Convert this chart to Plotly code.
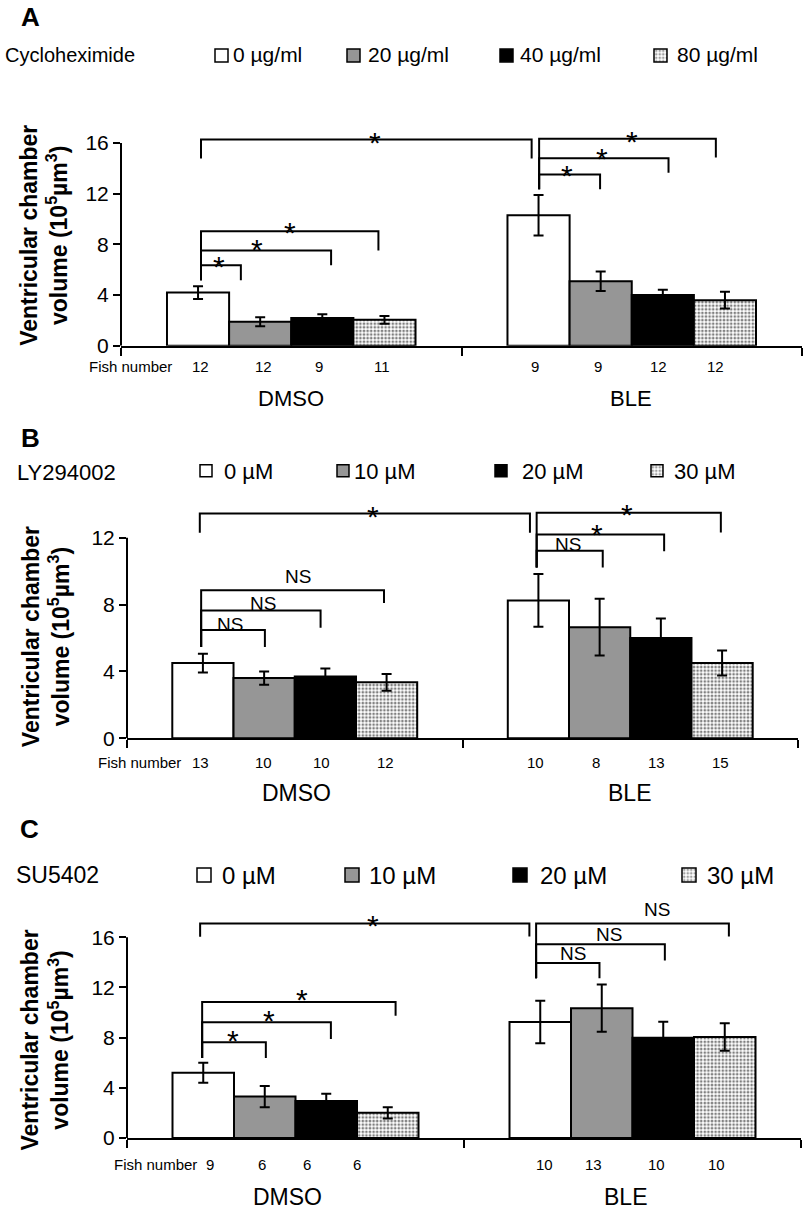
import plotly.graph_objects as go

W, H = 805, 1218
FONT = "Liberation Sans, Arial, Helvetica, sans-serif"

# ---------------- data ----------------
groups = ["DMSO", "BLE"]

A_drug = "Cycloheximide"
A_doses = ["0 µg/ml", "20 µg/ml", "40 µg/ml", "80 µg/ml"]
A_dmso_mean = [4.2, 1.9, 2.2, 2.05]
A_dmso_sem = [0.5, 0.35, 0.3, 0.3]
A_ble_mean = [10.3, 5.1, 4.0, 3.6]
A_ble_sem = [1.6, 0.77, 0.43, 0.66]
A_fish_dmso = [12, 12, 9, 11]
A_fish_ble = [9, 9, 12, 12]

B_drug = "LY294002"
B_doses = ["0 µM", "10 µM", "20 µM", "30 µM"]
B_dmso_mean = [4.5, 3.6, 3.7, 3.35]
B_dmso_sem = [0.56, 0.4, 0.47, 0.5]
B_ble_mean = [8.25, 6.65, 6.0, 4.5]
B_ble_sem = [1.58, 1.7, 1.17, 0.75]
B_fish_dmso = [13, 10, 10, 12]
B_fish_ble = [10, 8, 13, 15]

C_drug = "SU5402"
C_doses = ["0 µM", "10 µM", "20 µM", "30 µM"]
C_dmso_mean = [5.2, 3.3, 2.95, 2.0]
C_dmso_sem = [0.8, 0.85, 0.58, 0.45]
C_ble_mean = [9.25, 10.35, 8.0, 8.05]
C_ble_sem = [1.7, 1.88, 1.27, 1.1]
C_fish_dmso = [9, 6, 6, 6]
C_fish_ble = [10, 13, 10, 10]

# significance brackets: (x_start, x_end, y_line, y_left_bottom, y_right_bottom, label, label_x, label_y)
A_sig = [
    (-0.265, 0.706, 16.27, 14.77, 14.77, "*", 0.246, 16.59),
    (-0.265, 0.256, 9.04, 5.18, 7.52, "*", -0.004, 9.45),
    (-0.265, 0.117, 7.52, 5.18, 6.35, "*", -0.101, 8.13),
    (-0.265, -0.148, 6.35, 5.18, 5.18, "*", -0.212, 6.82),
    (0.728, 1.247, 16.33, 12.34, 14.84, "*", 0.9998, 16.64),
    (0.728, 1.108, 14.79, 12.34, 13.65, "*", 0.912, 15.31),
    (0.728, 0.907, 13.5, 12.34, 12.34, "*", 0.809, 13.98),
]
B_sig = [
    (-0.283, 0.701, 13.45, 12.3, 12.3, "*", 0.233, 13.70),
    (-0.279, 0.266, 8.86, 5.47, 8.1, "NS", 0.009, 9.69),
    (-0.279, 0.077, 7.65, 5.47, 6.62, "NS", -0.094, 8.05),
    (-0.279, -0.089, 6.48, 5.47, 5.47, "NS", -0.193, 6.82),
    (0.721, 1.27, 13.5, 10.22, 12.32, "*", 0.99, 13.82),
    (0.721, 1.101, 12.2, 10.22, 11.2, "*", 0.9, 12.59),
    (0.721, 0.918, 11.23, 10.22, 10.22, "NS", 0.813, 11.61),
]
C_sig = [
    (-0.283, 0.694, 17.1, 16.05, 16.07, "*", 0.23, 17.52),
    (-0.277, 0.297, 10.85, 6.37, 9.75, "*", 0.018, 11.64),
    (-0.277, 0.105, 9.22, 6.37, 7.9, "*", -0.078, 9.93),
    (-0.277, -0.088, 7.64, 6.37, 6.37, "*", -0.185, 8.3),
    (0.714, 1.286, 17.1, 12.73, 16.07, "NS", 1.073, 18.2),
    (0.714, 1.096, 15.46, 12.73, 14.15, "NS", 0.931, 16.23),
    (0.714, 0.902, 13.96, 12.73, 12.73, "NS", 0.824, 14.73),
]

# ---------------- styling / layout geometry (pixels) ----------------
bar_colors = ["white", "#969696", "black", "white"]
bar_patterns = ["", "", "", "."]

panels = [
    dict(letter="A", s="", drug=A_drug, doses=A_doses,
         dm=A_dmso_mean, de=A_dmso_sem, bm=A_ble_mean, be=A_ble_sem,
         fd=A_fish_dmso, fb=A_fish_ble, sig=A_sig,
         x0=121, x1=802, ybot=349, ppu=12.8, ymax=17.5, ytick=[0, 4, 8, 12, 16],
         letter_xy=(30, 17), drug_xy=(3, 55), drug_fs=20,
         box_x=[215, 347, 500, 654], box_sz=13, box_cy=56,
         txt_x=[231, 366, 518, 675], txt_cy=55, leg_fs=21,
         title_xy=(44, 238),
         fish_x=[200, 263, 319, 381.7, 535, 598, 658, 715], fish_y=370, fishlab_x=87,
         grp_xy=[(291, 402), (631, 402)], grp_fs=22),
    dict(letter="B", s="2", drug=B_drug, doses=B_doses,
         dm=B_dmso_mean, de=B_dmso_sem, bm=B_ble_mean, be=B_ble_sem,
         fd=B_fish_dmso, fb=B_fish_ble, sig=B_sig,
         x0=127, x1=798, ybot=745, ppu=16.86, ymax=14.5, ytick=[0, 4, 8, 12],
         letter_xy=(30, 442), drug_xy=(15, 477), drug_fs=22,
         box_x=[200, 337, 495, 651], box_sz=12, box_cy=475,
         txt_x=[222, 352, 520, 672], txt_cy=476, leg_fs=22,
         title_xy=(46, 643),
         fish_x=[200, 263.3, 321, 385, 535, 595.7, 656.7, 720], fish_y=769, fishlab_x=96,
         grp_xy=[(296, 800), (629, 800)], grp_fs=23),
    dict(letter="C", s="3", drug=C_drug, doses=C_doses,
         dm=C_dmso_mean, de=C_dmso_sem, bm=C_ble_mean, be=C_ble_sem,
         fd=C_fish_dmso, fb=C_fish_ble, sig=C_sig,
         x0=127, x1=801, ybot=1148.3, ppu=12.65, ymax=19.3, ytick=[0, 4, 8, 12, 16],
         letter_xy=(29, 837), drug_xy=(14, 883), drug_fs=23,
         box_x=[197, 345, 513, 682], box_sz=14, box_cy=883,
         txt_x=[220, 367, 538, 705], txt_cy=883, leg_fs=24,
         title_xy=(45, 1050),
         fish_x=[210, 262, 307, 357, 544.3, 593.3, 656, 716], fish_y=1175, fishlab_x=112,
         grp_xy=[(287, 1208), (625, 1208)], grp_fs=23),
]

fig = go.Figure()
shapes = []
annotations = []
layout_axes = {}

PIX = dict(xref="x4", yref="y4")


def ptxt(x, y, text, size, xanchor="center", yanchor="middle", bold=False, angle=0):
    t = f"<b>{text}</b>" if bold else text
    annotations.append(dict(x=x, y=y, text=t, showarrow=False, xanchor=xanchor,
                            yanchor=yanchor, textangle=angle,
                            font=dict(family=FONT, size=size, color="black"), **PIX))


legend_x, legend_base, legend_h, legend_col, legend_pat = [], [], [], [], []

for p in panels:
    s = p["s"]
    xa, ya = "x" + s, "y" + s
    top_px = p["ybot"] - p["ppu"] * p["ymax"]
    xdom = [p["x0"] / W, p["x1"] / W]
    ydom = [1 - p["ybot"] / H, 1 - top_px / H]

    for k in range(4):
        marker = dict(color=bar_colors[k], line=dict(color="black", width=2))
        if bar_patterns[k]:
            marker["pattern"] = dict(shape=bar_patterns[k], fgcolor="black",
                                     size=3.6, solidity=0.45)
        fig.add_trace(go.Bar(
            x=[0, 1], y=[p["dm"][k], p["bm"][k]],
            error_y=dict(type="data", array=[p["de"][k], p["be"][k]],
                         color="black", thickness=2, width=5),
            marker=marker, xaxis=xa, yaxis=ya, showlegend=False,
            name=p["doses"][k], hoverinfo="skip"))

    axkey = "" if s == "" else s
    layout_axes["xaxis" + axkey] = dict(
        domain=xdom, anchor=ya, range=[-0.5, 1.5], tickvals=[-0.5, 0.5, 1.5],
        ticks="outside", ticklen=8, tickwidth=2, tickcolor="black",
        showticklabels=False, showline=True, linecolor="black", linewidth=2,
        showgrid=False, zeroline=False, fixedrange=True)
    layout_axes["yaxis" + axkey] = dict(
        domain=ydom, anchor=xa, range=[0, p["ymax"]], tickvals=p["ytick"],
        ticks="outside", ticklen=7, tickwidth=2, tickcolor="black",
        tickfont=dict(family=FONT, size=21, color="black"),
        showline=False, showgrid=False, zeroline=False, fixedrange=True)

    # y-axis line up to the top tick
    shapes.append(dict(type="line", xref="paper", yref=ya,
                       x0=xdom[0], x1=xdom[0], y0=0, y1=p["ytick"][-1],
                       line=dict(color="black", width=2)))

    # significance brackets
    for (xs, xe, yl, ylb, yrb, lab, lx, ly) in p["sig"]:
        shapes.append(dict(type="path", xref=xa, yref=ya,
                           path=f"M {xs},{ylb} L {xs},{yl} L {xe},{yl} L {xe},{yrb}",
                           line=dict(color="black", width=2)))
        if lab == "*":
            annotations.append(dict(x=lx, y=ly, xref=xa, yref=ya, text="*",
                                    showarrow=False, yshift=-7,
                                    font=dict(family=FONT, size=30, color="black")))
        else:
            annotations.append(dict(x=lx, y=ly, xref=xa, yref=ya, text=lab,
                                    showarrow=False,
                                    font=dict(family=FONT, size=19, color="black")))

    # panel letter, drug label, legend
    ptxt(*p["letter_xy"], p["letter"], 26, bold=True)
    ptxt(p["drug_xy"][0], p["drug_xy"][1], p["drug"], p["drug_fs"], xanchor="left")
    for k in range(4):
        sz = p["box_sz"]
        legend_x.append(p["box_x"][k] + sz / 2)
        legend_base.append(p["box_cy"] - sz / 2)
        legend_h.append(sz)
        legend_col.append(bar_colors[k])
        legend_pat.append(bar_patterns[k])
        ptxt(p["txt_x"][k], p["txt_cy"], p["doses"][k], p["leg_fs"], xanchor="left")

    # y title
    ptxt(p["title_xy"][0], p["title_xy"][1],
         "Ventricular chamber<br>volume (10<sup>5</sup>µm<sup>3</sup>)", 23,
         bold=True, angle=-90)

    # fish numbers
    ptxt(p["fishlab_x"], p["fish_y"], "Fish number", 15, xanchor="left")
    for xpx, n in zip(p["fish_x"], list(p["fd"]) + list(p["fb"])):
        ptxt(xpx, p["fish_y"], str(n), 15)

    # group labels
    for (gx, gy), g in zip(p["grp_xy"], groups):
        ptxt(gx, gy, g, p["grp_fs"])

# legend swatches on a pixel overlay axis
fig.add_trace(go.Bar(
    x=legend_x, y=legend_h, base=legend_base, width=legend_h,
    marker=dict(color=legend_col, line=dict(color="black", width=1.5),
                pattern=dict(shape=legend_pat, fgcolor="black", size=3.5, solidity=0.45)),
    xaxis="x4", yaxis="y4", showlegend=False, hoverinfo="skip"))

layout_axes["xaxis4"] = dict(domain=[0, 1], range=[0, W], visible=False,
                             anchor="y4", fixedrange=True)
layout_axes["yaxis4"] = dict(domain=[0, 1], range=[H, 0], visible=False,
                             anchor="x4", fixedrange=True)

fig.update_layout(
    width=W, height=H, margin=dict(l=0, r=0, t=0, b=0),
    paper_bgcolor="white", plot_bgcolor="rgba(0,0,0,0)",
    barmode="group", bargap=0.27, bargroupgap=0,
    showlegend=False, shapes=shapes, annotations=annotations,
    font=dict(family=FONT, color="black"),
    **layout_axes)

fig.write_html("out.html", config={"displayModeBar": False},
               post_script="document.body.style.margin='0px';")
